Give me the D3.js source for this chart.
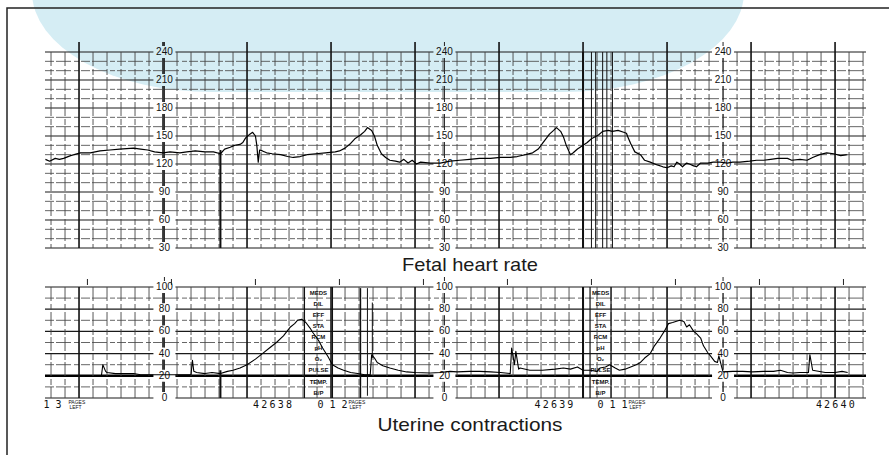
<!DOCTYPE html>
<html>
<head>
<meta charset="utf-8">
<title>Fetal heart rate and uterine contractions</title>
<script src="https://d3js.org/d3.v7.min.js"></script>
<style>
  body { margin: 0; background: #fff; }
  svg { display: block; }
  .num { font-family: "Liberation Sans", Arial, sans-serif; font-size: 10px; fill: #111; }
  .strip { font-family: "DejaVu Sans Mono", monospace; font-size: 10px; fill: #111; }
  .tiny { font-family: "Liberation Sans", Arial, sans-serif; font-size: 5px; fill: #111; }
  .box { font-family: "Liberation Sans", Arial, sans-serif; font-size: 6px; font-weight: bold; fill: #111; }
  .title { font-family: "Liberation Sans Narrow", "Arial Narrow", "Liberation Sans", sans-serif; font-size: 19px; fill: #1a1a1a; }
</style>
</head>
<body>
<svg width="889" height="455"></svg>
<script>
// time along the strip in seconds (0 = first minute line)
var stripStart = -24.3, stripEnd = 562.1;

var fhrLabels = [240, 210, 180, 150, 120, 90, 60, 30];
var ucLabels = [100, 80, 60, 40, 20, 0];
var labelColumns = [61, 261, 460];          // seconds where the scale numbers are printed

var pageCounts = [[-19, "1 3"], [181, "0 1 2"], [381, "0 1 1"]];
var pageNumbers = [[139, "42638"], [340, "42639"], [541, "42640"]];
var boxColumns = [[161, 181], [365, 380]];
var boxLabels = ["MEDS", "DIL", "EFF", "STA", "RCM", "pH", "O\u2082", "PULSE", "TEMP.", "B/P"];

// [seconds, bpm]
var fhrTrace = [[-24,125],[-21,123],[-17,126],[-14,125],[-11,126],[-6,129],[1,132],[8,132],[15,134],[22,135],[29,136],[39,137],[44,136],[49,135],[54,133],[60,132],[65,133],[72,132],[77,133],[83,134],[90,133],[96,133],[101,131],[104,136],[108,138],[111,140],[115,141],[117,143],[119,148],[122,152],[124,154],[126,150],[127,140],[128,122],[129,135],[131,134],[134,132],[138,131],[144,130],[149,128],[153,127],[158,128],[163,130],[169,131],[176,132],[183,133],[186,134],[190,137],[194,142],[197,147],[201,151],[204,155],[206,159],[209,156],[211,150],[213,140],[216,131],[219,127],[222,124],[226,123],[229,122],[232,125],[235,121],[238,124],[241,120],[244,122],[251,121],[258,121],[265,123],[272,124],[279,125],[286,126],[294,126],[301,127],[308,127],[313,128],[319,130],[324,132],[328,136],[331,142],[334,148],[336,152],[339,156],[341,159],[344,155],[346,149],[348,140],[351,130],[353,132],[356,136],[359,139],[363,143],[366,147],[371,151],[374,155],[378,156],[381,155],[385,156],[389,154],[391,153],[392,149],[394,142],[397,133],[401,130],[404,124],[408,122],[413,119],[417,117],[420,116],[423,118],[425,117],[427,122],[429,120],[431,117],[434,121],[436,120],[439,118],[441,117],[444,121],[449,121],[453,122],[458,122],[463,121],[467,122],[472,122],[479,123],[484,124],[489,124],[494,125],[499,126],[506,126],[509,124],[515,125],[520,124],[524,127],[529,130],[534,132],[539,131],[544,129],[549,130]];

// [seconds, mmHg]
var ucTrace = [[16,20],[17,30],[19,24],[20,23],[26,22],[33,22],[39,22],[44,21],[51,21],[58,21],[65,21],[72,21],[80,21],[81,34],[82,24],[84,23],[90,22],[95,23],[101,22],[106,24],[110,25],[115,27],[120,30],[126,35],[131,40],[136,45],[141,50],[146,56],[151,64],[154,67],[156,70],[159,71],[162,68],[165,63],[167,59],[171,52],[174,45],[178,37],[181,30],[185,27],[189,25],[194,23],[199,22],[204,21],[208,21],[209,39],[211,36],[213,32],[217,29],[222,27],[228,25],[234,23.5],[240,23],[251,22.5],[258,23],[265,24],[270,23.5],[279,24],[286,24],[294,23.5],[301,23],[308,22],[309,45],[311,30],[312,42],[314,26],[315,27],[322,25],[331,25],[340,26],[346,27],[351,26],[356,28],[360,25],[365,25],[370,24],[372,27],[376,28],[379,30],[383,27],[386,25],[390,26],[394,28],[398,30],[401,32],[404,36],[408,40],[411,47],[415,54],[418,60],[421,67],[424,68],[429,70],[432,69],[434,64],[436,66],[439,60],[441,58],[444,54],[446,47],[449,41],[451,38],[454,33],[456,32],[457,38],[459,28],[460,23.5],[467,24],[474,24],[481,23.5],[489,24],[496,24],[501,25],[506,23],[510,22.5],[515,23],[521,23],[522,39],[524,25],[533,23],[540,23],[545,24],[549,23]];

// extra marks on the paper: [seconds, top value, bottom value, width]
var fhrMarks = [[101,135,30,2],[360,240,30,2],[366,240,30,1],[369,240,30,1],[374,240,30,1],[377,240,30,1],[381,240,30,1]];
var ucMarks = [[101,25,0,2],[201,99,0,1.5],[206,99,2,1],[209.5,86,36,1],[360,100,0,2]];

var svg = d3.select("svg");

// light blue backdrop
svg.append("rect")
  .attr("x", 32).attr("y", -300)
  .attr("width", 712).attr("height", 392)
  .attr("rx", 180).attr("ry", 100)
  .attr("fill", "#d5edf4");

// frame
svg.append("path")
  .attr("d", "M7,455V8H889")
  .attr("fill", "none")
  .attr("stroke", "#222")
  .attr("stroke-width", 1.5);

var x = d3.scaleLinear().domain([stripStart, stripEnd]).range([45, 866]);
var yFhr = d3.scaleLinear().domain([30, 240]).range([248, 52]);
var yUc = d3.scaleLinear().domain([0, 100]).range([398, 287]);

function segments(a, b, gaps) {
  var out = [], cur = a;
  gaps.sort(function (p, q) { return p[0] - q[0]; }).forEach(function (gp) {
    if (gp[1] <= cur || gp[0] >= b) return;
    if (gp[0] > cur) out.push([cur, gp[0]]);
    cur = Math.max(cur, gp[1]);
  });
  if (cur < b) out.push([cur, b]);
  return out;
}

function drawPanel(y, vStep, majorStep, labels, thickValue, tickTop) {
  var g = svg.append("g");
  var x0 = x(stripStart), x1 = x(stripEnd);
  var vMin = y.domain()[0], vMax = y.domain()[1];

  // horizontal rules
  d3.range(vMin, vMax + 0.01, vStep).forEach(function (v) {
    var major = v % majorStep === 0;
    var gaps = labels.includes(v) ? labelColumns.map(function (s) { return [x(s) - 11, x(s) + 11]; }) : [];
    segments(x0, x1, gaps).forEach(function (sg) {
      g.append("line")
        .attr("x1", sg[0]).attr("x2", sg[1])
        .attr("y1", y(v)).attr("y2", y(v))
        .attr("stroke", v === thickValue ? "#000" : (major ? "#1a1a1a" : "#555"))
        .attr("stroke-width", v === thickValue ? 2.6 : (major ? 1.2 : 0.9))
        .attr("stroke-dasharray", (major || v === vMin || v === vMax) ? null : "9,2,15,3,5,2");
    });
  });

  // vertical rules every 10 s, darker every minute
  var labelGaps = labels.map(function (v) { return [y(v) - 6, y(v) + 6]; });
  d3.range(-20, stripEnd, 10).forEach(function (s) {
    var minute = s % 60 === 0;
    var nearLabel = labelColumns.some(function (c) { return Math.abs(x(c) - x(s)) < 4; });
    var top = minute && tickTop ? y(vMax) - 10 : y(vMax);
    segments(top, y(vMin), nearLabel ? labelGaps.slice() : []).forEach(function (sg) {
      g.append("line")
        .attr("x1", x(s)).attr("x2", x(s))
        .attr("y1", sg[0]).attr("y2", sg[1])
        .attr("stroke", minute ? "#111" : "#444")
        .attr("stroke-width", minute ? 1.6 : 0.9)
        .attr("stroke-dasharray", minute ? null : "14,3,6,2");
    });
  });

  // scale columns
  labelColumns.forEach(function (c) {
    segments(y(vMax) - 10, y(vMin), labelGaps.slice()).forEach(function (sg) {
      g.append("line")
        .attr("x1", x(c)).attr("x2", x(c))
        .attr("y1", sg[0]).attr("y2", sg[1])
        .attr("stroke", "#222").attr("stroke-width", 1);
    });
    g.selectAll(null)
      .data(labels)
      .enter()
      .append("text")
      .attr("class", "num")
      .attr("x", x(c))
      .attr("y", function (v) { return y(v) + 3; })
      .attr("text-anchor", "middle")
      .text(function (v) { return v; });
  });
  return g;
}

var fhrG = drawPanel(yFhr, 10, 30, fhrLabels, null, true);
var ucG = drawPanel(yUc, 10, 20, ucLabels, 20, false);

// small minute ticks above the contraction panel
d3.range(0, stripEnd, 60).forEach(function (s) {
  ucG.append("line")
    .attr("x1", x(s + 6)).attr("x2", x(s + 6))
    .attr("y1", yUc(100) - 8).attr("y2", yUc(100) - 2)
    .attr("stroke", "#222").attr("stroke-width", 1);
});

// chart note boxes in the contraction panel
boxColumns.forEach(function (bc) {
  bc.forEach(function (s) {
    ucG.append("line")
      .attr("x1", x(s)).attr("x2", x(s))
      .attr("y1", yUc(100)).attr("y2", yUc(0))
      .attr("stroke", "#111").attr("stroke-width", 1.2);
  });
  ucG.selectAll(null)
    .data(boxLabels)
    .enter()
    .append("text")
    .attr("class", "box")
    .attr("x", x((bc[0] + bc[1]) / 2))
    .attr("y", function (d, i) { return yUc(95 - i * 10) + 2.2; })
    .attr("text-anchor", "middle")
    .text(function (d) { return d; });
});

// paper marks
function drawMarks(list, y) {
  list.forEach(function (m) {
    svg.append("line")
      .attr("x1", x(m[0])).attr("x2", x(m[0]))
      .attr("y1", y(m[1])).attr("y2", y(m[2]))
      .attr("stroke", "#111").attr("stroke-width", m[3]);
  });
}
drawMarks(fhrMarks, yFhr);
drawMarks(ucMarks, yUc);

// traces
var fhrLine = d3.line()
  .x(function (d) { return x(d[0]); })
  .y(function (d) { return yFhr(d[1]); });
var ucLine = d3.line()
  .x(function (d) { return x(d[0]); })
  .y(function (d) { return yUc(d[1]); });

svg.append("path").datum(fhrTrace)
  .attr("d", fhrLine)
  .attr("fill", "none").attr("stroke", "#000")
  .attr("stroke-width", 1.2).attr("stroke-linejoin", "round");
svg.append("path").datum(ucTrace)
  .attr("d", ucLine)
  .attr("fill", "none").attr("stroke", "#000")
  .attr("stroke-width", 1.1).attr("stroke-linejoin", "round");

// strip annotations along the bottom
var bottomY = yUc(0) + 10;
pageCounts.forEach(function (p) {
  svg.append("text").attr("class", "strip")
    .attr("x", x(p[0])).attr("y", bottomY)
    .attr("text-anchor", "middle")
    .text(p[1]);
  var t = svg.append("text").attr("class", "tiny")
    .attr("x", x(p[0]) + 16).attr("y", bottomY - 4);
  t.append("tspan").text("PAGES");
  t.append("tspan").attr("x", x(p[0]) + 17).attr("dy", 4.5).text("LEFT");
});
pageNumbers.forEach(function (p) {
  svg.append("text").attr("class", "strip")
    .attr("x", x(p[0])).attr("y", bottomY)
    .attr("text-anchor", "middle")
    .attr("letter-spacing", 2.2)
    .text(p[1]);
});

// titles
svg.append("text").attr("class", "title")
  .attr("x", 470).attr("y", 271)
  .attr("text-anchor", "middle")
  .attr("textLength", 136).attr("lengthAdjust", "spacingAndGlyphs")
  .text("Fetal heart rate");
svg.append("text").attr("class", "title")
  .attr("x", 470).attr("y", 431)
  .attr("text-anchor", "middle")
  .attr("textLength", 185).attr("lengthAdjust", "spacingAndGlyphs")
  .text("Uterine contractions");
</script>
</body>
</html>
